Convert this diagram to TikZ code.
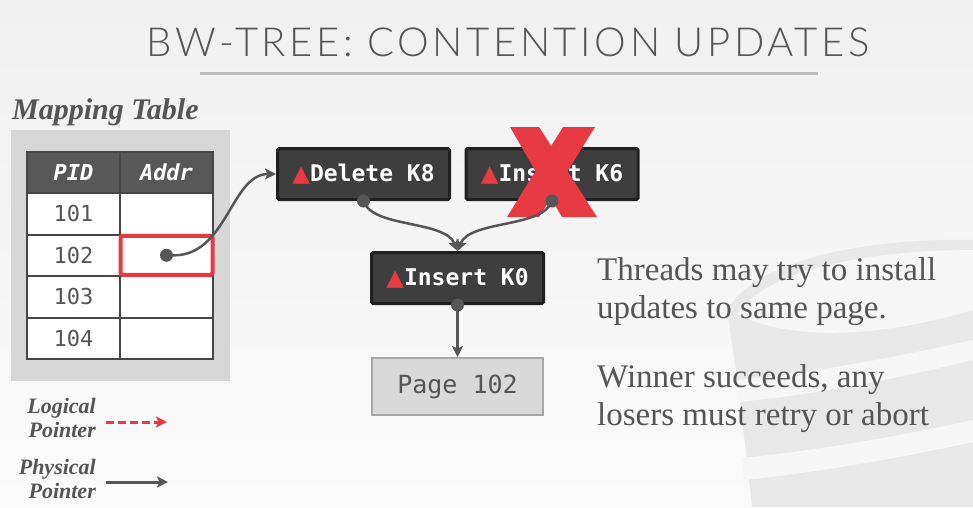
\documentclass[tikz,border=0pt]{standalone}
\usepackage{fontspec}
\usepackage{tikz}
\usetikzlibrary{arrows.meta,calc,positioning}
\setmainfont{Liberation Serif}
\setmonofont{DejaVu Sans Mono}
\newfontfamily\titlefont[LetterSpace=9]{Lato Light}
\newfontfamily\symfont{DejaVu Sans}

\definecolor{txtgray}{HTML}{555555}
\definecolor{titlegray}{HTML}{555555}
\definecolor{rulegray}{HTML}{BDBDBD}
\definecolor{panelgray}{HTML}{D7D7D7}
\definecolor{headgray}{HTML}{585858}
\definecolor{linegray}{HTML}{474747}
\definecolor{deltafill}{HTML}{3E3E3E}
\definecolor{deltaline}{HTML}{202020}
\definecolor{ptrgray}{HTML}{565656}
\definecolor{pagefill}{HTML}{D9D9D9}
\definecolor{pageline}{HTML}{A8A8A8}
\definecolor{xred}{HTML}{E83A42}
\definecolor{bgtop}{HTML}{F0F0F0}
\definecolor{bgbot}{HTML}{FBFBFB}
\definecolor{wmgray}{HTML}{E8E8E8}
\definecolor{wmlight}{HTML}{F6F6F6}

\newcommand{\deltamark}{{\symfont\textcolor{xred}{▲}}}

\tikzset{
  cell/.style={draw=linegray, line width=2pt, fill=white, minimum width=93, minimum height=41.5,
    inner sep=0, text=txtgray, font=\ttfamily\fontsize{22}{24}\selectfont},
  headcell/.style={cell, fill=headgray, text=white, font=\ttfamily\bfseries\itshape\fontsize{22}{24}\selectfont},
  deltabox/.style={draw=deltaline, line width=3pt, fill=deltafill, rounded corners=1.5pt,
    minimum width=172, minimum height=51, inner sep=0, text=white,
    font=\ttfamily\bfseries\fontsize{23}{26}\selectfont},
  pagebox/.style={draw=pageline, line width=2pt, fill=pagefill, minimum width=171, minimum height=57,
    inner sep=0, text=txtgray, font=\ttfamily\fontsize{25}{28}\selectfont},
  dot/.style={circle, fill=ptrgray, inner sep=0, minimum size=13},
  ptr/.style={draw=ptrgray, line width=2.5pt, -{Stealth[length=11pt,width=11pt,inset=2.5pt]}},
  logptr/.style={draw=xred, line width=3pt, dash pattern=on 8pt off 4pt, -{Stealth[length=11pt,width=11pt,inset=2.5pt]}},
  hilite/.style={draw=xred, line width=4pt, rounded corners=2pt, minimum width=92, minimum height=39, inner sep=0},
  note/.style={inner sep=0, align=left, text=txtgray, font=\fontsize{33}{38}\selectfont},
  legend/.style={inner sep=0, align=right, text=txtgray, font=\bfseries\itshape\fontsize{22}{24}\selectfont}
}

\begin{document}
\begin{tikzpicture}[x=1pt, y=-1pt]
    \useasboundingbox (0,0) rectangle (973,507);
    \shade[top color=bgtop, bottom color=bgbot] (0,0) rectangle (973,507);

    % faint logo in the corner
    \fill[wmgray] (727,310) .. controls (760,255) and (880,238) .. (973,240) -- (973,507) -- (752,507)
        .. controls (745,440) and (735,360) .. cycle;
    \fill[wmlight] (737,314) .. controls (770,266) and (880,250) .. (973,250) -- (973,310)
        .. controls (900,332) and (800,346) .. cycle;
    \fill[wmlight] (736,380) .. controls (820,372) and (900,356) .. (973,340) -- (973,360)
        .. controls (900,378) and (820,394) .. (738,402) -- cycle;
    \fill[wmlight] (742,458) .. controls (820,450) and (900,436) .. (973,420) -- (973,442)
        .. controls (900,458) and (820,472) .. (744,480) -- cycle;

    \node[anchor=base, inner sep=0, text=titlegray, font=\titlefont\fontsize{40}{44}\selectfont] (title) at (508,56) {BW-TREE: CONTENTION UPDATES};
    \draw[rulegray, line width=3pt] (200,73) -- (818,73);

    \node[anchor=base west, inner sep=0, text=txtgray, font=\bfseries\itshape\fontsize{30}{32}\selectfont] (maptitle) at (12,119) {Mapping Table};
    \fill[panelgray] (11,130) rectangle (230,381);

    \node[headcell] (hpid) at (73.5,172.5) {PID};
    \node[headcell] (haddr) at (166.5,172.5) {Addr};
    \foreach \pid [count=\i] in {101,102,103,104} {
        \node[cell] (pid\i) at (73.5,{193+(\i-0.5)*41.5}) {\pid};
        \node[cell] (addr\i) at (166.5,{193+(\i-0.5)*41.5}) {};
    }
    \node[hilite] (hl) at (addr2.center) {};
    \node[dot] (p102) at (addr2.center) {};

    \node[deltabox] (del) at (363.5,174) {\deltamark Delete K8};
    \node[deltabox] (ins6) at (552,174) {\deltamark Insert K6};
    \node[deltabox] (ins0) at (457.5,278) {\deltamark Insert K0};
    \node[pagebox] (page) at (457.5,386.5) {Page 102};

    \fill[xred] (510,127) -- (539,127) -- (597,217) -- (562,217) -- cycle;
    \fill[xred] (563,127) -- (595,127) -- (539,217) -- (507,217) -- cycle;

    \node[dot] (dk8) at (del.south) {};
    \node[dot] (dk6) at (ins6.south) {};
    \node[dot] (dk0) at (ins0.south) {};

    \draw[ptr] (p102) .. controls (227,256) and (231,174) .. (del.west);
    \draw[ptr] (dk8.center) .. controls (372,228) and (445,220) .. (ins0.north);
    \draw[ptr] (dk6.center) .. controls (543,228) and (470,220) .. (ins0.north);
    \draw[ptr] (dk0.center) -- (page.north);

    \node[note, anchor=base west] (note1) at (597,318) {Threads may try to install\\updates to same page.};
    \node[note, anchor=base west] (note2) at (597,425) {Winner succeeds, any\\losers must retry or abort};

    \node[legend, anchor=base east] (logical) at (96,437) {Logical\\Pointer};
    \coordinate (lgfrom) at (106,422);
    \coordinate (lgto) at (167,422);
    \draw[logptr] (lgfrom) -- (lgto);

    \node[legend, anchor=base east] (physical) at (96,498) {Physical\\Pointer};
    \coordinate (phfrom) at (106,482);
    \coordinate (phto) at (168,482);
    \draw[ptr, line width=3pt] (phfrom) -- (phto);
\end{tikzpicture}
\end{document}
